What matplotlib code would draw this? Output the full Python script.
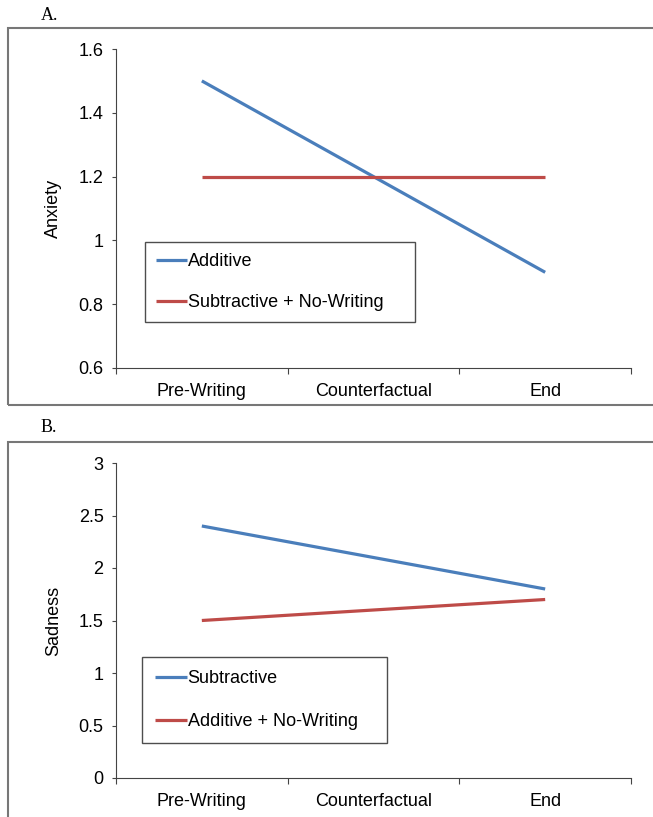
import matplotlib.pyplot as plt
from matplotlib.patches import Rectangle

plt.rcParams['font.family'] = ['Liberation Sans', 'DejaVu Sans']

phases = ['Pre-Writing', 'Counterfactual', 'End']

# panel A
anx_additive = [1.5, 1.2, 0.9]
anx_sub_nowrite = [1.2, 1.2, 1.2]
anx_ticks = [0.6, 0.8, 1, 1.2, 1.4, 1.6]
anx_ticklabels = ['0.6', '0.8', '1', '1.2', '1.4', '1.6']

# panel B
sad_subtractive = [2.4, 2.1, 1.8]
sad_add_nowrite = [1.5, 1.6, 1.7]
sad_ticks = [0, 0.5, 1, 1.5, 2, 2.5, 3]
sad_ticklabels = ['0', '0.5', '1', '1.5', '2', '2.5', '3']

BLUE = '#4a7ebb'
RED = '#be4b48'
W, H = 653, 817


def fig_rect(x0, y0, x1, y1):
    # pixel coords (top-left origin) -> figure fraction [l, b, w, h]
    return [x0 / W, 1 - y1 / H, (x1 - x0) / W, (y1 - y0) / H]


def draw_panel(fig, rect, s1, s2, names, ticks, ticklabels, ylim, ylabel,
               leg_px, spacing, bpad):
    ax = fig.add_axes(rect)
    x = list(range(len(phases)))
    ax.plot(x, s1, color=BLUE, lw=2.3, solid_capstyle='butt', label=names[0])
    ax.plot(x, s2, color=RED, lw=2.3, solid_capstyle='butt', label=names[1])
    ax.set_xlim(-0.5, 2.5)
    ax.set_ylim(*ylim)
    ax.set_yticks(ticks)
    ax.set_yticklabels(ticklabels)
    ax.set_xticks([-0.5, 0.5, 1.5, 2.5])
    ax.set_xticklabels([])
    ax.set_xticks(x, minor=True)
    ax.set_xticklabels(phases, minor=True)
    ax.tick_params(axis='x', which='minor', length=0, pad=11, labelsize=13)
    ax.tick_params(axis='x', which='major', length=4, color='#444444')
    ax.tick_params(axis='y', length=3, color='#444444', labelsize=13, pad=6)
    for s in ['top', 'right']:
        ax.spines[s].set_visible(False)
    for s in ['left', 'bottom']:
        ax.spines[s].set_color('#444444')
    ax.set_ylabel(ylabel, fontsize=13, labelpad=12)

    l, b, w, h = fig_rect(*leg_px)
    leg = ax.legend(loc='upper left', bbox_to_anchor=(l, b, w, h),
                    bbox_transform=fig.transFigure, mode='expand',
                    fontsize=13, frameon=True, fancybox=False, handlelength=1.75,
                    handletextpad=0.05, labelspacing=spacing, borderpad=bpad,
                    borderaxespad=0)
    leg.get_frame().set_edgecolor('#222222')
    leg.get_frame().set_linewidth(1.0)
    return ax


fig = plt.figure(figsize=(6.53, 8.17), dpi=100)

# outer chart boxes
for y0, y1 in [(28, 405), (442, 900)]:
    l, b, w, h = fig_rect(8, y0, 700, y1)
    fig.patches.append(Rectangle((l, b), w, h, transform=fig.transFigure,
                                 fill=False, edgecolor='#777777', lw=1.5))

fig.text(41 / W, 1 - 16 / H, 'A.', family='Liberation Serif', fontsize=13, va='center')
fig.text(41 / W, 1 - 428 / H, 'B.', family='Liberation Serif', fontsize=13, va='center')

draw_panel(fig, fig_rect(116, 49, 631, 368), anx_additive, anx_sub_nowrite,
           ['Additive', 'Subtractive + No-Writing'], anx_ticks, anx_ticklabels,
           (0.6, 1.6), 'Anxiety', (145, 242, 415, 323), 1.35, 0.6)

draw_panel(fig, fig_rect(116, 463, 631, 778), sad_subtractive, sad_add_nowrite,
           ['Subtractive', 'Additive + No-Writing'], sad_ticks, sad_ticklabels,
           (0, 3), 'Sadness', (142, 657, 387, 745), 1.45, 0.72)

fig.savefig('out.png', dpi=100)
